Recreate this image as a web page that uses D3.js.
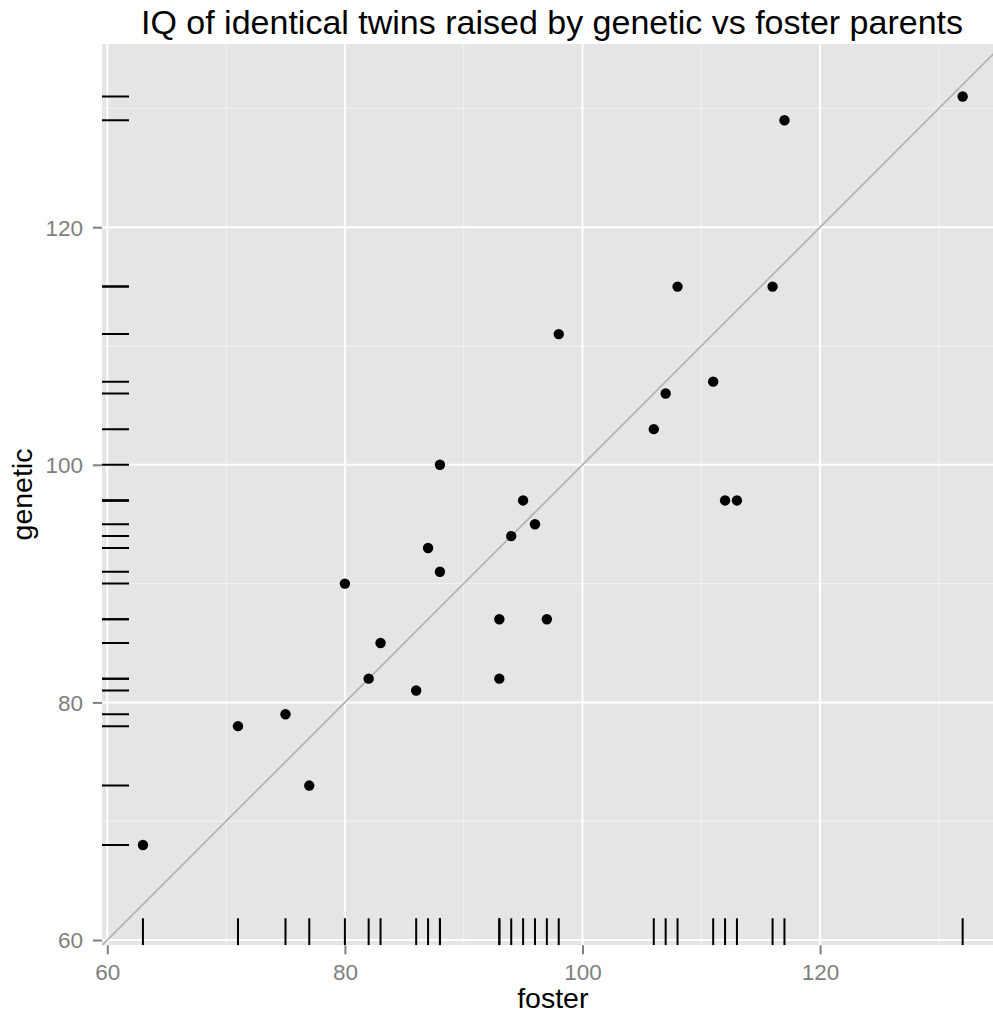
<!DOCTYPE html>
<html>
<head>
<meta charset="utf-8">
<script src="https://cdn.jsdelivr.net/npm/d3@7"></script>
<style>
  html, body { margin: 0; padding: 0; background: #fff; }
  svg { display: block; font-family: "Liberation Sans", Arial, sans-serif; }
</style>
</head>
<body>
<svg id="chart" width="993" height="1014"></svg>
<script>
// Burt's twin IQ data: twin raised by foster parents vs twin raised by genetic parents
const foster  = [82, 80, 88, 108, 116, 117, 132, 71, 75, 93, 95, 88, 111, 63, 77, 86, 83, 93, 97, 87, 94, 96, 112, 113, 106, 107, 98];
const genetic = [82, 90, 91, 115, 115, 129, 131, 78, 79, 82, 97, 100, 107, 68, 73, 81, 85, 87, 87, 93, 94, 95, 97, 97, 103, 106, 111];
const majorTicks = [60, 80, 100, 120];
const minorTicks = [70, 90, 110, 130];
const titleText = "IQ of identical twins raised by genetic vs foster parents";

const svg = d3.select("#chart");

// shared limits for both axes (equal coordinates), padded 5% of the range
const all = foster.concat(genetic);
const lo = d3.min(all), hi = d3.max(all);
const pad = (hi - lo) * 0.05;
const dom = [lo - pad, hi + pad];

const unit = 11.88;                 // pixels per IQ point
const left = 107.3 - (60 - dom[0]) * unit;
const bottom = 940 + (60 - dom[0]) * unit;
const size = (dom[1] - dom[0]) * unit;

const x = d3.scaleLinear().domain(dom).range([left, left + size]);
const y = d3.scaleLinear().domain(dom).range([bottom, bottom - size]);

svg.append("clipPath").attr("id", "panel-clip")
  .append("rect").attr("x", left).attr("y", bottom - size).attr("width", size).attr("height", size);

const panel = svg.append("g").attr("clip-path", "url(#panel-clip)");

panel.append("rect")
  .attr("x", left).attr("y", bottom - size).attr("width", size).attr("height", size)
  .attr("fill", "#e5e5e5");

// minor grid
panel.selectAll("line.minor-x").data(minorTicks).join("line")
  .attr("x1", d => x(d)).attr("x2", d => x(d))
  .attr("y1", bottom - size).attr("y2", bottom)
  .attr("stroke", "#f2f2f2").attr("stroke-width", 1);
panel.selectAll("line.minor-y").data(minorTicks).join("line")
  .attr("y1", d => y(d)).attr("y2", d => y(d))
  .attr("x1", left).attr("x2", left + size)
  .attr("stroke", "#f2f2f2").attr("stroke-width", 1);

// major grid
panel.selectAll("line.major-x").data(majorTicks).join("line")
  .attr("x1", d => x(d)).attr("x2", d => x(d))
  .attr("y1", bottom - size).attr("y2", bottom)
  .attr("stroke", "#ffffff").attr("stroke-width", 2);
panel.selectAll("line.major-y").data(majorTicks).join("line")
  .attr("y1", d => y(d)).attr("y2", d => y(d))
  .attr("x1", left).attr("x2", left + size)
  .attr("stroke", "#ffffff").attr("stroke-width", 2);

// identity line y = x
panel.append("line")
  .attr("x1", x(dom[0])).attr("y1", y(dom[0]))
  .attr("x2", x(dom[1])).attr("y2", y(dom[1]))
  .attr("stroke", "#b3b3b3").attr("stroke-width", 1.8);

// rugs
const rugLen = size * 0.03;
panel.selectAll("line.rug-x").data(foster).join("line")
  .attr("x1", d => x(d)).attr("x2", d => x(d))
  .attr("y1", bottom).attr("y2", bottom - rugLen)
  .attr("stroke", "#000").attr("stroke-width", 2);
panel.selectAll("line.rug-y").data(genetic).join("line")
  .attr("y1", d => y(d)).attr("y2", d => y(d))
  .attr("x1", left).attr("x2", left + rugLen)
  .attr("stroke", "#000").attr("stroke-width", 2);

// points
panel.selectAll("circle").data(foster.map((f, i) => [f, genetic[i]])).join("circle")
  .attr("cx", d => x(d[0])).attr("cy", d => y(d[1]))
  .attr("r", 5.2).attr("fill", "#000");

// axes
const xAxis = d3.axisBottom(x).tickValues(majorTicks).tickSize(9).tickPadding(4);
const yAxis = d3.axisLeft(y).tickValues(majorTicks).tickSize(9).tickPadding(4);

const gx = svg.append("g").attr("transform", `translate(0,${bottom})`).call(xAxis);
const gy = svg.append("g").attr("transform", `translate(${left},0)`).call(yAxis);
[gx, gy].forEach(g => {
  g.select(".domain").remove();
  g.selectAll(".tick line").attr("stroke", "#7f7f7f").attr("stroke-width", 2);
  g.selectAll(".tick text").attr("fill", "#7f7f7f")
    .attr("font-size", 22.5).attr("font-family", "Liberation Sans, Arial, sans-serif");
});
gx.selectAll(".tick text").attr("dy", null).attr("y", 35);
gy.selectAll(".tick text").attr("dy", "0.35em").attr("x", -19);

// axis titles
svg.append("text")
  .attr("x", x(dom[0]) + size / 2 - 0).attr("y", 1008)
  .attr("text-anchor", "middle").attr("font-size", 28.5).attr("fill", "#000")
  .text("foster");

svg.append("text")
  .attr("transform", `translate(32,${bottom - size / 2}) rotate(-90)`)
  .attr("text-anchor", "middle").attr("font-size", 28.5).attr("fill", "#000")
  .text("genetic");

// title
svg.append("text")
  .attr("x", 552).attr("y", 34)
  .attr("text-anchor", "middle").attr("font-size", 34).attr("fill", "#000")
  .text(titleText);
</script>
</body>
</html>
